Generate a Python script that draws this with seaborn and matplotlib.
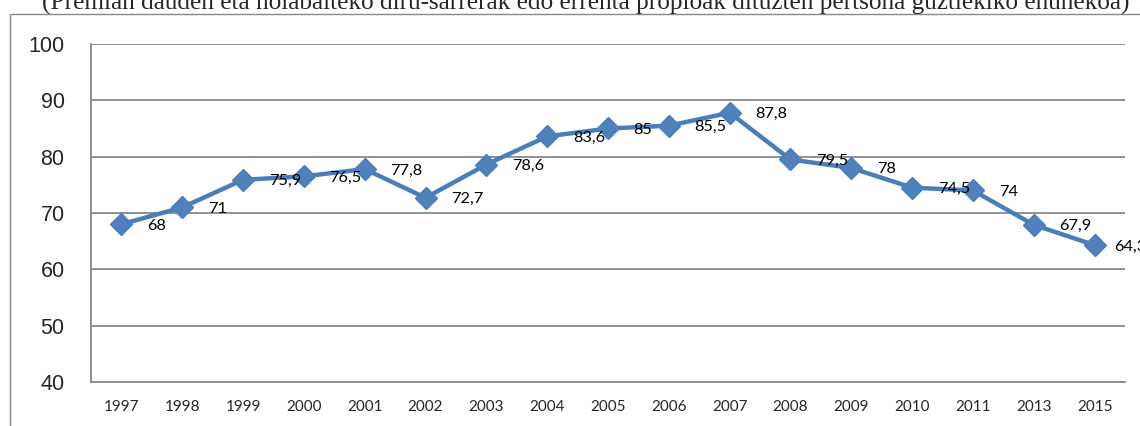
import matplotlib
matplotlib.use('Agg')
import matplotlib.pyplot as plt
import seaborn as sns
from matplotlib.patches import Rectangle
from matplotlib.ticker import FixedLocator

# data
years = ['1997', '1998', '1999', '2000', '2001', '2002', '2003', '2004', '2005',
         '2006', '2007', '2008', '2009', '2010', '2011', '2013', '2015']
values = [68, 71, 75.9, 76.5, 77.8, 72.7, 78.6, 83.6, 85, 85.5, 87.8,
          79.5, 78, 74.5, 74, 67.9, 64.3]
title = ('(Premian dauden eta nolabaiteko diru-sarrerak edo errenta propioak '
         'dituzten pertsona guztiekiko ehunekoa)')

sns.set_style('white')
grey = '#898989'

fig = plt.figure(figsize=(11.4, 4.26), dpi=100)
ax = fig.add_axes([91 / 1140, 1 - 382 / 426, (1125 - 91) / 1140, (382 - 44) / 426])

sns.lineplot(x=years, y=values, ax=ax, color='#4A7EBB', linewidth=3.2,
             marker='D', markersize=11, markerfacecolor='#4F81BD',
             markeredgecolor='#4A7EBB', markeredgewidth=1, sort=False)

# data labels to the right of each point
for i, v in enumerate(values):
    txt = f'{v:g}'.replace('.', ',')
    dx = 14 if i == len(values) - 1 else 18.5
    ax.annotate(txt, (i, v), xytext=(dx, -1), textcoords='offset points',
                ha='left', va='center', fontsize=11.8, family='Lato',
                color='black', annotation_clip=False)

ax.set_xlim(-0.5, len(years) - 0.5)
ax.set_ylim(40, 100)
ax.set_yticks(range(40, 101, 10))
ax.grid(axis='y', color=grey, linewidth=1.3)
ax.grid(axis='x', visible=False)

# category tick marks between labels
ax.xaxis.set_minor_locator(FixedLocator([i - 0.5 for i in range(len(years) + 1)]))
ax.tick_params(axis='x', which='major', length=0, pad=13, labelsize=11)
ax.tick_params(axis='x', which='minor', length=4, width=1.3, color=grey, direction='out')
ax.tick_params(axis='y', length=6, width=1.3, color=grey, direction='out',
               pad=13, labelsize=15.5)
for lab in ax.get_xticklabels():
    lab.set_family('Lato')
for lab in ax.get_yticklabels():
    lab.set_family('Liberation Sans')

for side in ['top', 'right']:
    ax.spines[side].set_visible(False)
for side in ['left', 'bottom']:
    ax.spines[side].set_color(grey)
    ax.spines[side].set_linewidth(1.3)
ax.set_xlabel('')
ax.set_ylabel('')

# chart frame and cut-off title
fig.patches.append(Rectangle((10 / 1140, -0.1), 1.2, 1 - 14 / 426 + 0.1,
                             transform=fig.transFigure, fill=False,
                             edgecolor=grey, linewidth=1))
fig.text(586 / 1140, 1 - 10 / 426, title, ha='center', va='baseline',
         fontsize=18.2, family='Liberation Serif')

fig.savefig('out.png', dpi=100)
